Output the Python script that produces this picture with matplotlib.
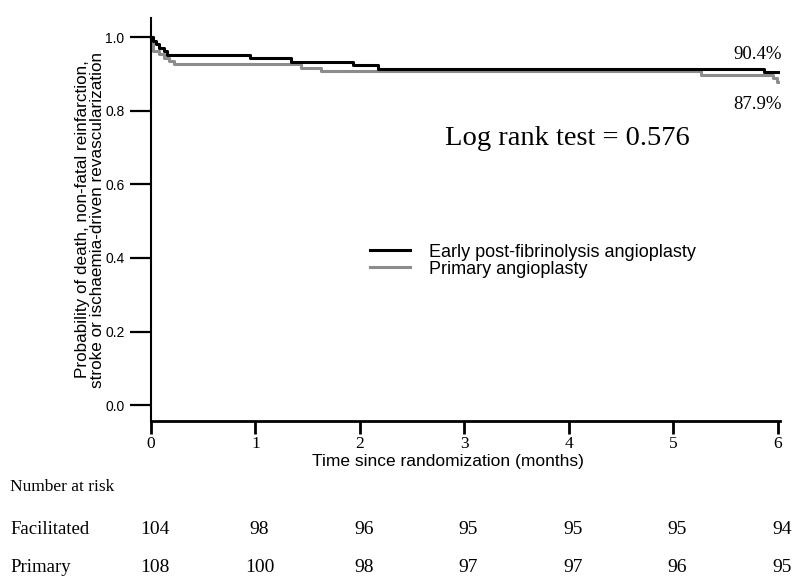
import matplotlib
matplotlib.use("Agg")
import matplotlib.pyplot as plt
from matplotlib.transforms import blended_transform_factory, ScaledTranslation

# Kaplan-Meier style step data (months, probability)
early_t = [0.0, 0.02, 0.05, 0.08, 0.12, 0.15, 0.95, 1.34, 1.93, 2.17, 5.87, 6.0]
early_s = [1.0, 0.990, 0.981, 0.971, 0.962, 0.952, 0.942, 0.933, 0.923, 0.913, 0.904, 0.904]

primary_t = [0.0, 0.02, 0.08, 0.12, 0.17, 0.22, 1.44, 1.63, 5.26, 5.95, 5.99, 6.0]
primary_s = [1.0, 0.963, 0.954, 0.944, 0.935, 0.926, 0.917, 0.907, 0.898, 0.889, 0.879, 0.879]

months = [0, 1, 2, 3, 4, 5, 6]
risk_facilitated = [104, 98, 96, 95, 95, 95, 94]
risk_primary = [108, 100, 98, 97, 97, 96, 95]

serif = "Liberation Serif"
sans = "Liberation Sans"

fig = plt.figure(figsize=(7.92, 5.79), dpi=100)
ax = fig.add_axes([151 / 792, (579 - 421) / 579, 629 / 792, (421 - 18) / 579])

ax.step(early_t, early_s, where="post", color="black", lw=2.2,
        label="Early post-fibrinolysis angioplasty", zorder=3)
ax.step(primary_t, primary_s, where="post", color="#8c8c8c", lw=2.2,
        label="Primary angioplasty", zorder=2)

ax.set_xlim(0, 6.02)
ax.set_ylim(-0.043, 1.052)
ax.set_xticks(months)
ax.set_yticks([0.0, 0.2, 0.4, 0.6, 0.8, 1.0])
ax.set_yticklabels(["0.0", "0.2", "0.4", "0.6", "0.8", "1.0"], family=sans, fontsize=10)
ax.set_xticklabels([str(m) for m in months], family=serif, fontsize=12.5)
ax.tick_params(axis="y", length=15, width=1.6, pad=4)
ax.tick_params(axis="x", length=9, width=2, pad=2)

for s in ["top", "right"]:
    ax.spines[s].set_visible(False)
ax.spines["left"].set_linewidth(1.5)
ax.spines["bottom"].set_linewidth(2)

ax.set_xlabel("Time since randomization (months)", family=sans, fontsize=12.5, labelpad=0)
ax.xaxis.set_label_coords(0.472, -0.083)
ax.set_ylabel("Probability of death, non-fatal reinfarction,\nstroke or ischaemia-driven revascularization",
              family=sans, fontsize=12.3, labelpad=0, linespacing=1.0)

ax.text(6.04, 0.954, "90.4%", family=serif, fontsize=13.5, ha="right", va="center")
ax.text(6.04, 0.816, "87.9%", family=serif, fontsize=13.5, ha="right", va="center")
ax.text(2.81, 0.707, "Log rank test = 0.576", family=serif, fontsize=20.5,
        ha="left", va="baseline")

leg = ax.legend(loc="upper left", bbox_to_anchor=(0.348, 0.44), frameon=False,
                prop={"family": sans, "size": 13}, handlelength=2.2,
                handletextpad=1.1, labelspacing=0.0, borderpad=0, borderaxespad=0)

# number at risk table
tr = blended_transform_factory(ax.transData, fig.transFigure)
shift = ScaledTranslation(4 / 100, 0, fig.dpi_scale_trans)
fig.text(10 / 792, 1 - 487 / 579, "Number at risk", family=serif, fontsize=12.5, va="center")
fig.text(10 / 792, 1 - 530 / 579, "Facilitated", family=serif, fontsize=13.5, va="center")
fig.text(10 / 792, 1 - 568 / 579, "Primary", family=serif, fontsize=13.5, va="center")
for m, a, b in zip(months, risk_facilitated, risk_primary):
    ax.text(m, 1 - 530 / 579, str(a), transform=tr + shift, family=serif, fontsize=14,
            ha="center", va="center", clip_on=False)
    ax.text(m, 1 - 568 / 579, str(b), transform=tr + shift, family=serif, fontsize=14,
            ha="center", va="center", clip_on=False)

fig.savefig("out.png", dpi=100)
